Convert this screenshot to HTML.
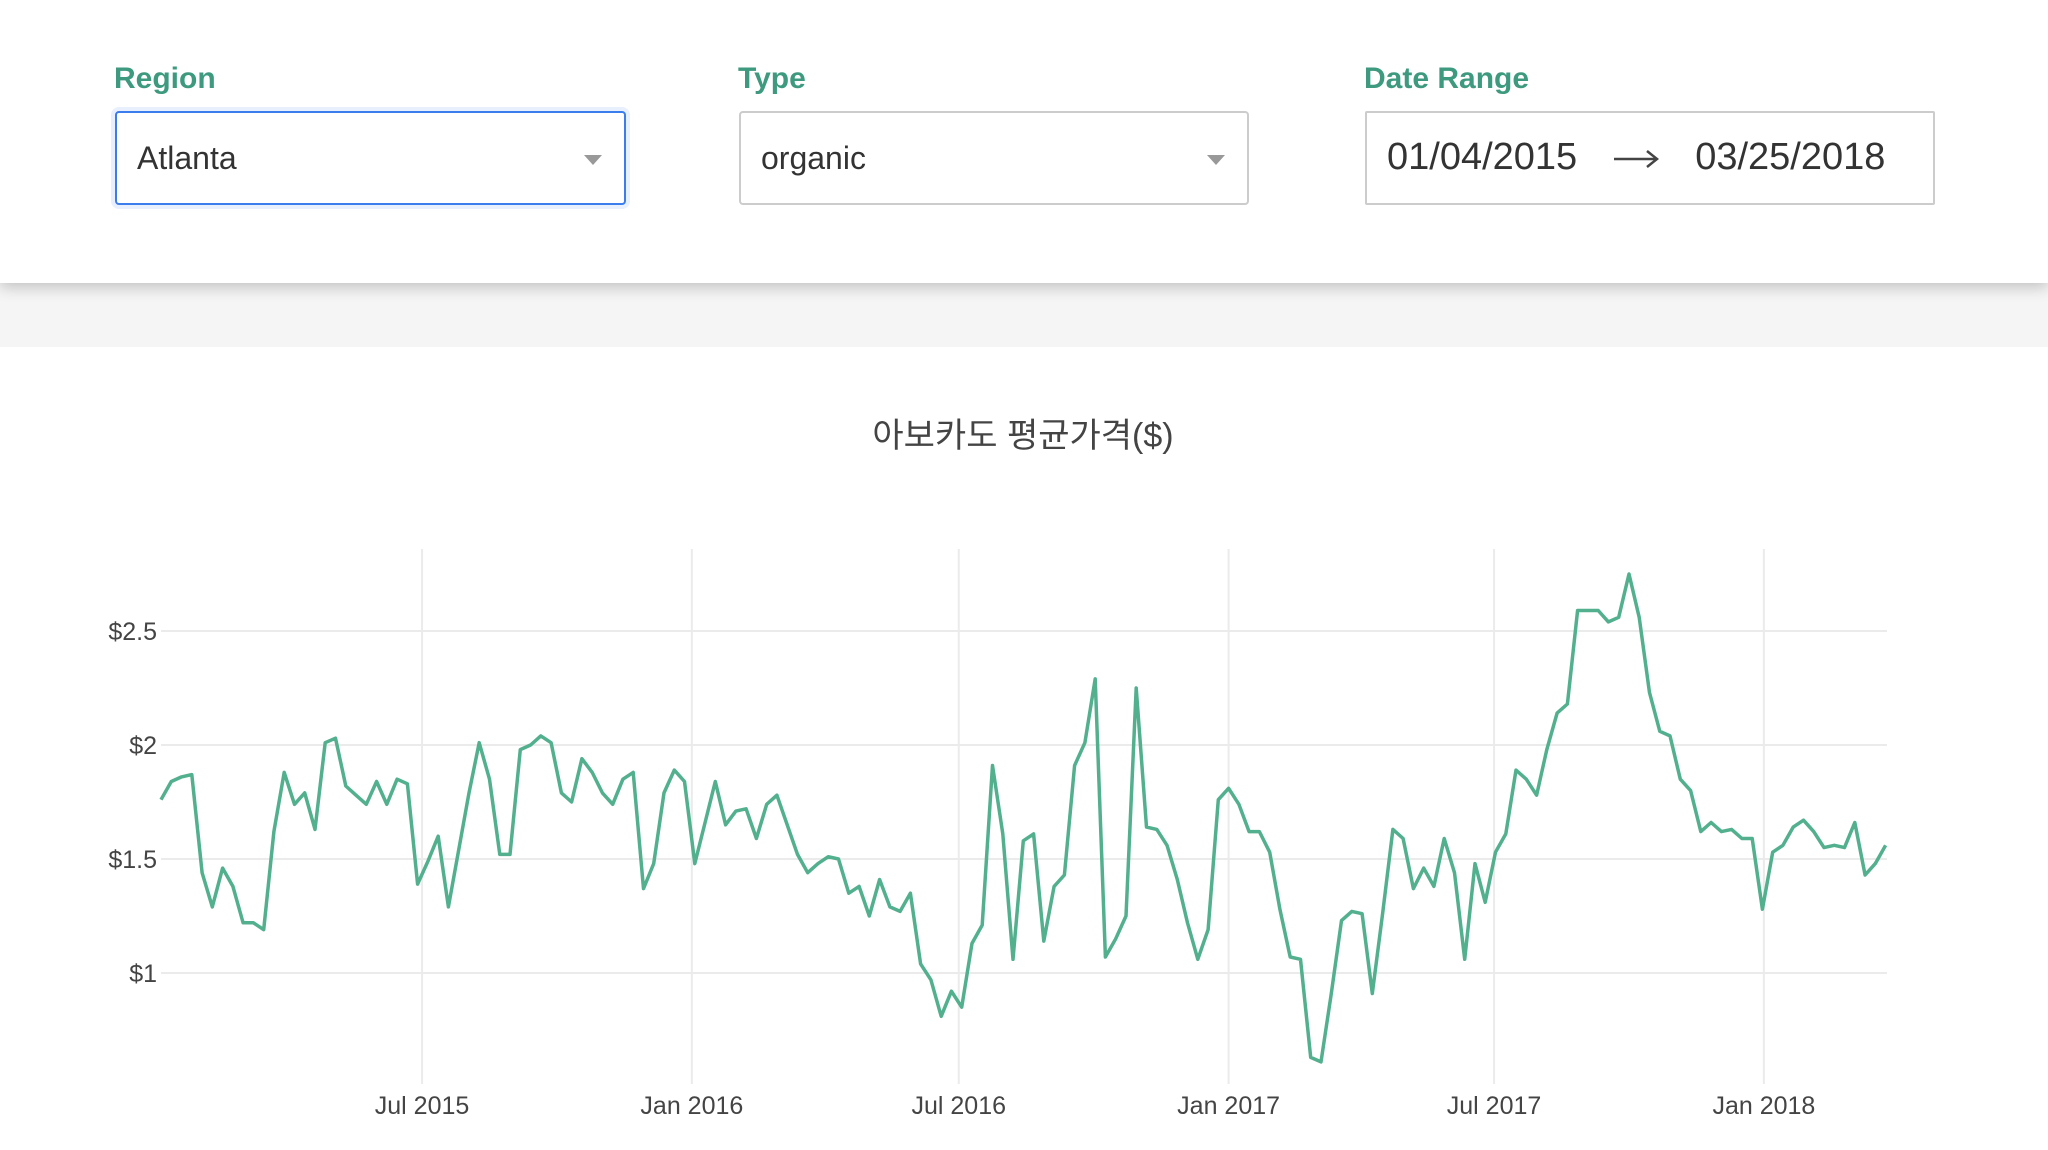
<!DOCTYPE html>
<html><head><meta charset="utf-8"><style>
body{margin:0;width:2048px;height:1150px;background:#fff;font-family:"Liberation Sans","Noto Sans CJK KR",sans-serif;overflow:hidden;position:relative}
.hdr{position:absolute;left:0;top:0;width:2048px;height:283px;background:#fff;box-shadow:0 4px 14px rgba(0,0,0,0.22);z-index:2}
.band{position:absolute;left:0;top:283px;width:2048px;height:64px;background:#f5f5f5}
.lbl{position:absolute;top:62px;font-size:30px;font-weight:bold;color:#3d9a7e}
.box{position:absolute;top:111px;height:94px;box-sizing:border-box;border:2px solid #ccc;border-radius:4px;background:#fff;font-size:32px;color:#333;line-height:90px;padding-left:20px}
.arrow{position:absolute;right:22px;top:42px;width:0;height:0;border-left:9px solid transparent;border-right:9px solid transparent;border-top:10px solid #999}
</style></head><body>
<div class="hdr">
<div class="lbl" style="left:114px">Region</div>
<div class="box" style="left:115px;width:511px;border-color:#3b7ded;box-shadow:0 0 0 4px #e8f0fd">Atlanta<div class="arrow"></div></div>
<div class="lbl" style="left:738px">Type</div>
<div class="box" style="left:739px;width:510px">organic<div class="arrow"></div></div>
<div class="lbl" style="left:1364px">Date Range</div>
<div class="box" style="left:1365px;width:570px;border-radius:2px;font-size:38px;line-height:88px"><span>01/04/2015</span><span style="display:inline-block;width:118px;text-align:center"><svg width="46" height="20" viewBox="0 0 46 20" style="vertical-align:middle"><line x1="1" y1="10" x2="44" y2="10" stroke="#444" stroke-width="2.5"/><polyline points="34,2 44,10 34,18" fill="none" stroke="#444" stroke-width="2.5"/></svg></span><span>03/25/2018</span></div>
</div>
<div class="band"></div>
<svg id="chart" width="2048" height="1150" style="position:absolute;left:0;top:0">
<text x="1023" y="447" text-anchor="middle" font-size="34" fill="#444" font-family="Liberation Sans, Noto Sans CJK KR, sans-serif">아보카도 평균가격($)</text>
</svg>
<script>
const startDate = "2015-01-04";
const prices = [1.76,1.84,1.86,1.87,1.44,1.29,1.46,1.38,1.22,1.22,1.19,1.62,1.88,1.74,1.79,1.63,2.01,2.03,1.82,1.78,1.74,1.84,1.74,1.85,1.83,1.39,1.49,1.60,1.29,1.54,1.79,2.01,1.85,1.52,1.52,1.98,2.00,2.04,2.01,1.79,1.75,1.94,1.88,1.79,1.74,1.85,1.88,1.37,1.48,1.79,1.89,1.84,1.48,1.66,1.84,1.65,1.71,1.72,1.59,1.74,1.78,1.65,1.52,1.44,1.48,1.51,1.50,1.35,1.38,1.25,1.41,1.29,1.27,1.35,1.04,0.97,0.81,0.92,0.85,1.13,1.21,1.91,1.61,1.06,1.58,1.61,1.14,1.38,1.43,1.91,2.01,2.29,1.07,1.15,1.25,2.25,1.64,1.63,1.56,1.41,1.22,1.06,1.19,1.76,1.81,1.74,1.62,1.62,1.53,1.28,1.07,1.06,0.63,0.61,0.91,1.23,1.27,1.26,0.91,1.26,1.63,1.59,1.37,1.46,1.38,1.59,1.44,1.06,1.48,1.31,1.53,1.61,1.89,1.85,1.78,1.98,2.14,2.18,2.59,2.59,2.59,2.54,2.56,2.75,2.56,2.23,2.06,2.04,1.85,1.80,1.62,1.66,1.62,1.63,1.59,1.59,1.28,1.53,1.56,1.64,1.67,1.62,1.55,1.56,1.55,1.66,1.43,1.48,1.56];
const yTicks = [1,1.5,2,2.5];
const yTickLabels = ["$1","$1.5","$2","$2.5"];
const xTicks = ["2015-07-01","2016-01-01","2016-07-01","2017-01-01","2017-07-01","2018-01-01"];
const xTickLabels = ["Jul 2015","Jan 2016","Jul 2016","Jan 2017","Jul 2017","Jan 2018"];

const NS="http://www.w3.org/2000/svg";
const svg=document.getElementById('chart');
const t0=Date.parse(startDate+"T00:00:00Z");
const DAY=86400000;
function xs(ms){return 161+(ms-t0)/DAY*1.4665;}
function ys(v){return 973-(v-1)*228;}
function mk(tag,attrs){const e=document.createElementNS(NS,tag);for(const k in attrs)e.setAttribute(k,attrs[k]);svg.appendChild(e);return e;}
yTicks.forEach((v,i)=>{
  const l=mk('line',{x1:161,x2:1887,y1:ys(v),y2:ys(v),stroke:'#ebebeb','stroke-width':2});
  
  
  const t=mk('text',{x:157,y:ys(v)+9,'text-anchor':'end','font-size':25,fill:'#444','font-family':'Liberation Sans, sans-serif'});
  t.textContent=yTickLabels[i];
  
  
});
xTicks.forEach((d,i)=>{
  const x=xs(Date.parse(d+"T00:00:00Z"));
  const l=mk('line',{x1:x,x2:x,y1:549,y2:1084,stroke:'#ebebeb','stroke-width':2});
  
  
  const t=mk('text',{x:x,y:1114,'text-anchor':'middle','font-size':25,fill:'#444','font-family':'Liberation Sans, sans-serif'});
  t.textContent=xTickLabels[i];
  
  
});
const pts=prices.map((v,i)=>xs(t0+i*7*DAY).toFixed(1)+","+ys(v).toFixed(1)).join(" ");
const pl=mk('polyline',{points:pts,fill:'none',stroke:'#52b08f','stroke-width':3.5,'stroke-linejoin':'round'});


</script>
</body></html>
